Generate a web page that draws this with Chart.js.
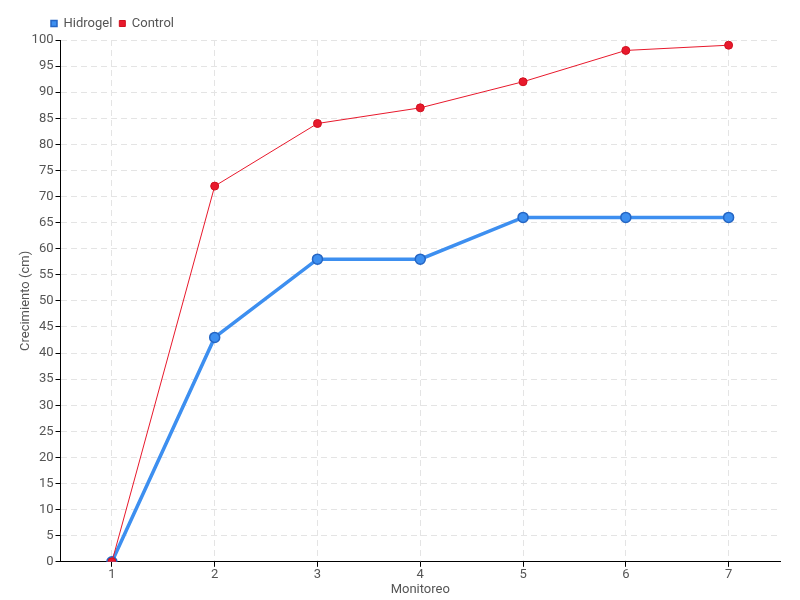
<!DOCTYPE html>
<html>
<head>
<meta charset="utf-8">
<script src="https://cdn.jsdelivr.net/npm/chart.js@4"></script>
<style>
  html, body { margin: 0; padding: 0; background: #fff; }
  #wrap { width: 800px; height: 600px; }
</style>
</head>
<body>
<div id="wrap"><canvas id="chart" width="800" height="600"></canvas></div>
<script>
// data
const monitoreo = ["1", "2", "3", "4", "5", "6", "7"];
const hidrogel  = [0, 43, 58, 58, 66, 66, 66];
const control   = [0, 72, 84, 87, 92, 98, 99];

const FONT = "Roboto, 'Noto Sans', sans-serif";
const TXT  = "#555";

// move the legend so it starts near the y axis, as in the reference
const legendShift = {
  id: "legendShift",
  afterLayout(chart) {
    chart.legend.left = 44;
  }
};

const ctx = document.getElementById("chart").getContext("2d");
new Chart(ctx, {
  type: "line",
  data: {
    labels: monitoreo,
    datasets: [
      {
        label: "Control",
        data: control,
        borderColor: "#e8192c",
        backgroundColor: "#e8192c",
        borderWidth: 1,
        pointRadius: 4,
        pointBorderWidth: 1,
        pointBorderColor: "#d0101f",
        tension: 0,
      },
      {
        label: "Hidrogel",
        data: hidrogel,
        borderColor: "#3d8ff0",
        backgroundColor: "#3d8ff0",
        borderWidth: 3.5,
        pointRadius: 5,
        pointBorderWidth: 1.5,
        pointBorderColor: "#2566c4",
        tension: 0,
      }
    ]
  },
  options: {
    responsive: false,
    animation: false,
    layout: { padding: { left: 18, right: 20, top: 10, bottom: 2 } },
    plugins: {
      legend: {
        position: "top",
        align: "start",
        reverse: true,
        labels: {
          usePointStyle: true,
          pointStyle: "rect",
          boxWidth: 6,
          boxHeight: 6,
          padding: 7,
          color: TXT,
          font: { family: FONT, size: 13 }
        }
      },
      tooltip: { enabled: false }
    },
    scales: {
      x: {
        offset: true,
        title: { display: true, text: "Monitoreo", color: TXT, padding: 0,
                 font: { family: FONT, size: 13 } },
        ticks: { color: TXT, padding: 0, font: { family: FONT, size: 13 } },
        grid: { offset: false, color: "#e4e4e4", tickColor: "#000", tickLength: 5,
                lineWidth: 1 },
        border: { color: "#000", dash: [6, 4] }
      },
      y: {
        min: 0,
        max: 100,
        title: { display: true, text: "Crecimiento (cm)", color: TXT,
                 padding: { top: 0, bottom: -4 },
                 font: { family: FONT, size: 13 } },
        ticks: { stepSize: 5, color: TXT, padding: 2, font: { family: FONT, size: 13 } },
        grid: { color: "#e4e4e4", tickColor: "#000", tickLength: 5 },
        border: { color: "#000", dash: [6, 4] }
      }
    }
  },
  plugins: [legendShift]
});
</script>
</body>
</html>
